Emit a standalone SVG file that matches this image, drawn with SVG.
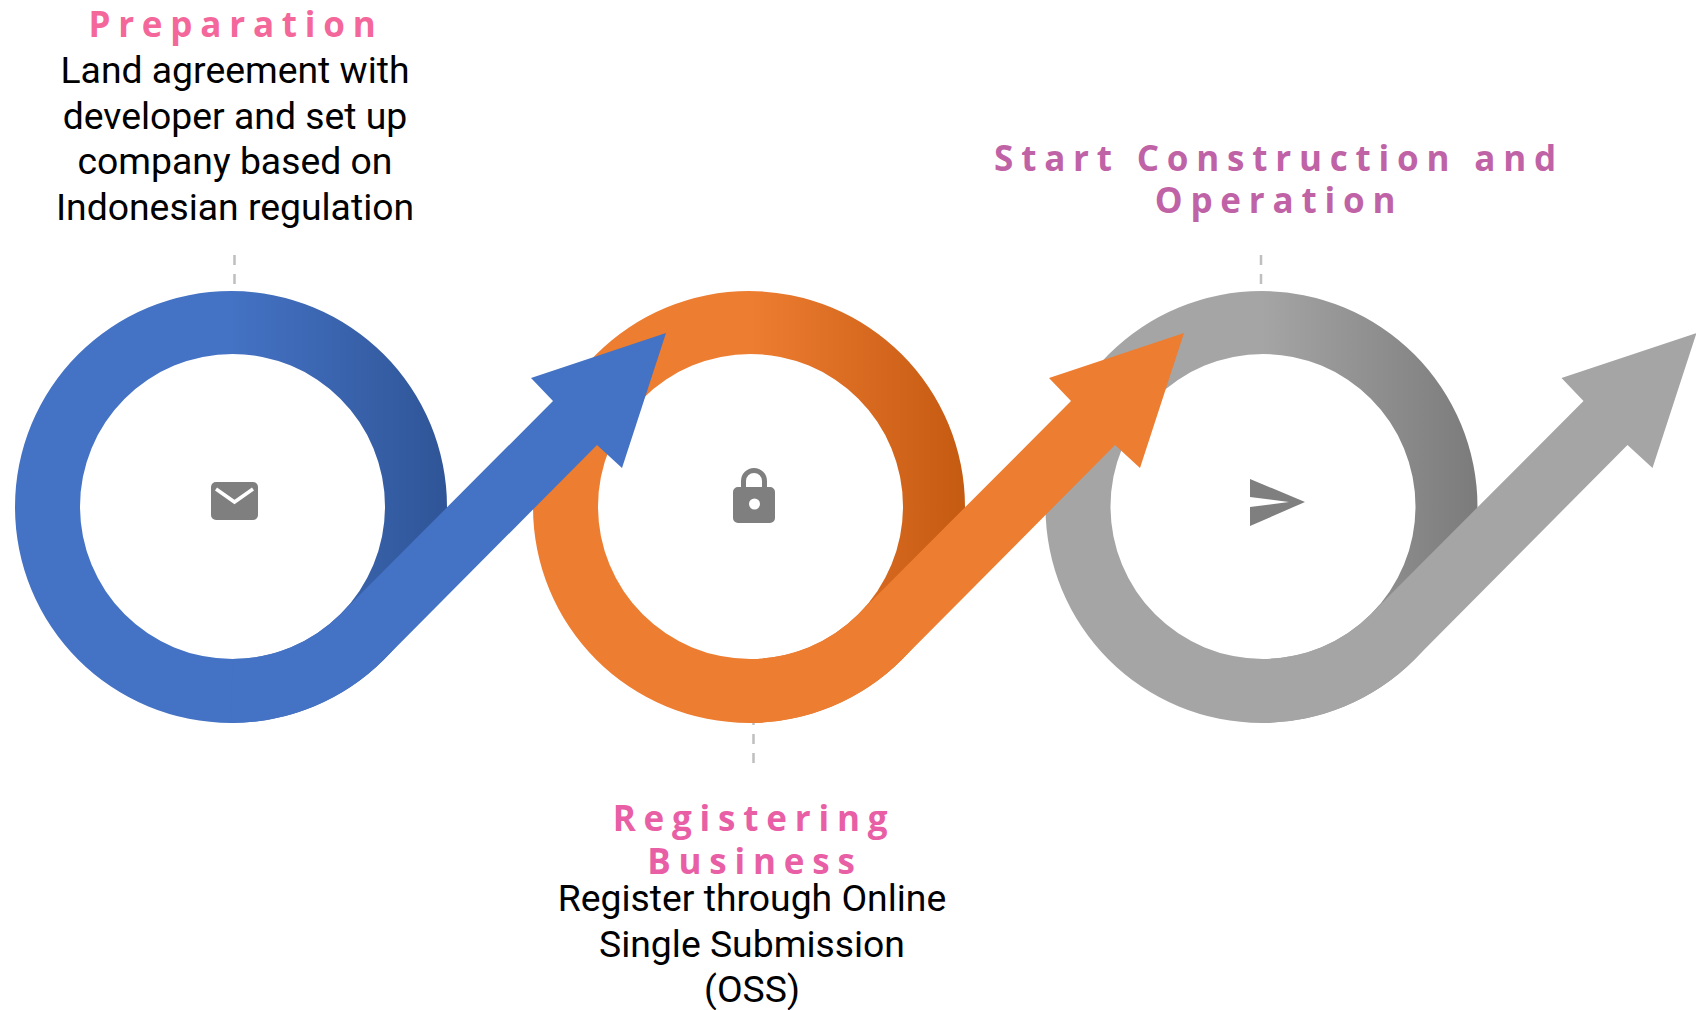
<svg xmlns="http://www.w3.org/2000/svg" width="1696" height="1010" viewBox="0 0 1696 1010">
<style>
.body{font-family:Roboto,"Liberation Sans",sans-serif;font-size:37.33px;fill:#000;text-anchor:middle}
.title{font-family:"Open Sans","Liberation Sans",sans-serif;font-size:35px;font-weight:700;letter-spacing:7.8px;text-anchor:middle}
.dash{stroke:#BFBFBF;stroke-width:2.5;stroke-dasharray:10 9;fill:none}
.icon{fill:#7F7F7F}
</style>
<defs>
<linearGradient id="gb" gradientUnits="userSpaceOnUse" x1="0" y1="0" x2="216" y2="0"><stop offset="0" stop-color="#4472C4"/><stop offset="1" stop-color="#2F5597"/></linearGradient>
<linearGradient id="go" gradientUnits="userSpaceOnUse" x1="0" y1="0" x2="216" y2="0"><stop offset="0" stop-color="#ED7D31"/><stop offset="1" stop-color="#C55A11"/></linearGradient>
<linearGradient id="gg" gradientUnits="userSpaceOnUse" x1="0" y1="0" x2="216" y2="0"><stop offset="0" stop-color="#A5A5A5"/><stop offset="1" stop-color="#7B7B7B"/></linearGradient>
<path id="arrow" d="M0 216A216 216 0 0 0 152.700 152.800L366 -62L391 -39L435 -174L300 -129L322 -106L109.300 107.300A152.500 152.500 0 0 1 1.500 152Z"/>
<path id="ring" fill-rule="evenodd" d="M-216 0A216 216 0 1 1 216 0A216 216 0 1 1 -216 0ZM-151 -0.500A152.500 152.500 0 1 0 154 -0.500A152.500 152.500 0 1 0 -151 -0.500Z"/>
</defs>
<g id="connectors">
<path class="dash" d="M234.500 255V285"/>
<path class="dash" d="M753.500 715V765"/>
<path class="dash" d="M1261 255V285"/>
</g>
<g id="node-3">
<use href="#ring" x="1261.500" y="507" fill="url(#gg)"/>
<use href="#arrow" x="1261.500" y="507" fill="#A5A5A5"/>
<path class="icon" d="M1250 479L1305 502L1250 526V507L1289 502L1250 497Z"/>
<text class="title" x="1279" y="171" fill="#C062A6">Start Construction and</text>
<text class="title" x="1279" y="213" fill="#C062A6">Operation</text>
</g>
<g id="node-2">
<use href="#ring" x="749" y="507" fill="url(#go)"/>
<use href="#arrow" x="749" y="507" fill="#ED7D31"/>
<path class="icon" fill-rule="evenodd" d="M741 487V481A13 13 0 0 1 767 481V487H770A5 5 0 0 1 775 492V518A5 5 0 0 1 770 523H738A5 5 0 0 1 733 518V492A5 5 0 0 1 738 487ZM746 487H762V481A8 8 0 0 0 746 481ZM760 504A5.500 5.500 0 1 0 749 504A5.500 5.500 0 1 0 760 504Z"/>
<text class="title" x="754" y="831" fill="#E85FA6">Registering</text>
<text class="title" x="755" y="874" fill="#E85FA6">Business</text>
<text class="body" x="752" y="911">Register through Online</text>
<text class="body" x="752" y="957">Single Submission</text>
<text class="body" x="752" y="1002">(OSS)</text>
</g>
<g id="node-1">
<use href="#ring" x="231" y="507" fill="url(#gb)"/>
<use href="#arrow" x="231" y="507" fill="#4472C4"/>
<rect class="icon" x="211" y="482" width="47" height="38" rx="5"/>
<path d="M216 489L234.500 502L253 489" fill="none" stroke="#fff" stroke-width="3.500"/>
<text class="title" x="236" y="37" fill="#F4679A">Preparation</text>
<text class="body" x="235" y="83">Land agreement with</text>
<text class="body" x="235" y="129">developer and set up</text>
<text class="body" x="235" y="174">company based on</text>
<text class="body" x="235" y="220">Indonesian regulation</text>
</g>
</svg>
